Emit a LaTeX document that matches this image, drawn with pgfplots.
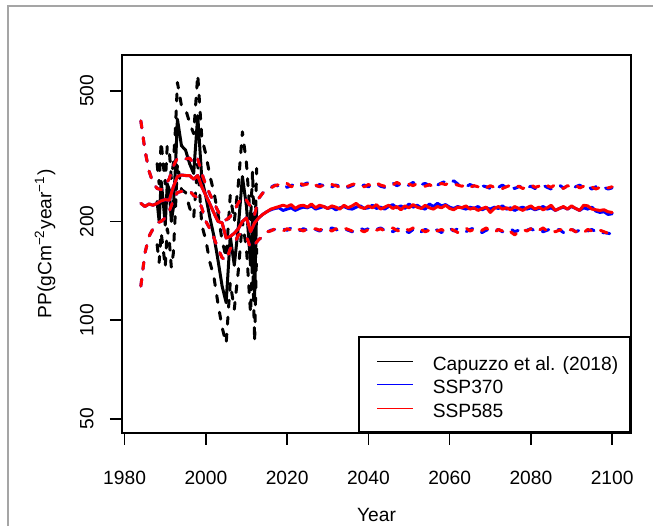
\documentclass[border=0pt]{standalone}
\usepackage{fontspec}
\setmainfont{Liberation Sans}
\usepackage{pgfplots}
\usepackage{pgfplotstable}
\pgfplotsset{compat=1.18}

% model runs (mean, upper, lower) for SSP370 (b*) and SSP585 (r*)
\pgfplotstableread{
year bm bu bl rm ru rl
1984 227 405 127 227 405 127
1985 222 330 160 222 330 160
1986 226 285 180 226 285 180
1987 224 262 190 224 262 190
1988 227 252 198 227 252 198
1989 231 250 200 231 250 200
1990 233 258 205 233 258 205
1991 232 270 215 232 270 215
1992 255 295 232 255 295 232
1993 274 312 245 274 312 245
1994 277 312 247 277 312 247
1995 276 310 246 276 310 246
1996 276 312 248 276 312 248
1997 269 300 240 269 300 240
1998 276 310 236 276 310 236
1999 255 280 220 255 280 220
2000 240 258 200 240 258 200
2001 226 242 190 226 242 190
2002 212 228 178 212 228 178
2003 200 215 165 200 215 165
2004 198 205 155 198 205 155
2005 178 202 152 178 202 152
2006 180 207 165 180 207 165
2007 184 215 170 184 215 170
2008 190 228 182 190 228 182
2009 200 238 184 200 238 184
2010 205 232 180 205 232 180
2011 186 222 166 186 222 166
2012 198 210 170 198 210 170
2013 205 235 176 205 235 176
2014 210 244 180 210 244 180
2015 214 248 185 214 250 186
2016 217 254 188 218 253 187
2017 219 258 189 220 257 190
2018 220 256 188 222 259 189
2019 216 260 190 224 256 187
2020 218 254 188 222 261 190
2021 220 257 191 225 255 188
2022 216 261 189 219 259 191
2023 219 256 187 223 263 189
2024 221 259 190 224 258 187
2025 220 262 188 221 260 190
2026 223 257 191 226 264 188
2027 218 255 189 220 258 190
2028 220 259 187 224 255 188
2029 222 257 190 222 258 191
2030 219 260 188 219 256 189
2031 221 255 191 223 259 187
2032 217 258 189 221 257 190
2033 220 256 187 218 254 188
2034 222 259 190 224 258 191
2035 219 254 188 220 256 189
2036 218 257 186 223 259 187
2037 221 260 189 227 261 190
2038 223 256 191 221 257 188
2039 219 258 188 219 255 186
2040 220 255 190 223 259 189
2041 224 257 187 220 256 191
2042 219 261 189 225 262 188
2043 221 256 191 218 258 190
2044 218 254 188 221 256 187
2045 222 259 190 224 260 189
2046 225 262 186 219 258 191
2047 220 257 189 222 263 188
2048 223 260 191 217 259 186
2049 219 255 187 223 257 190
2050 226 258 185 220 260 188
2051 221 263 189 225 257 191
2052 224 256 191 221 261 187
2053 220 259 186 219 258 189
2054 218 261 189 224 256 186
2055 226 257 187 220 259 188
2056 222 254 190 218 255 191
2057 227 258 188 222 258 187
2058 223 262 185 220 261 189
2059 225 265 189 224 259 186
2060 221 261 191 219 263 190
2061 219 266 187 217 260 188
2062 222 260 190 221 258 185
2063 220 257 188 220 256 189
2064 218 255 186 223 259 191
2065 221 259 189 218 254 187
2066 219 256 191 220 257 189
2067 222 253 187 216 255 186
2068 217 257 185 219 258 188
2069 220 255 188 221 253 191
2070 218 252 190 213 257 187
2071 221 256 187 219 254 185
2072 219 254 189 222 256 189
2073 223 258 186 218 252 187
2074 218 253 188 220 255 190
2075 220 256 190 217 258 186
2076 216 252 186 222 253 182
2077 219 255 188 219 256 186
2078 221 257 185 216 252 189
2079 218 253 188 220 255 187
2080 220 256 190 223 259 190
2081 217 252 187 218 254 186
2082 219 255 189 221 256 188
2083 222 258 186 217 252 191
2084 218 254 188 220 257 187
2085 220 251 190 224 254 189
2086 216 255 187 216 259 186
2087 219 258 189 219 255 188
2088 221 253 185 222 252 190
2089 218 256 188 218 257 187
2090 222 252 190 223 254 189
2091 219 255 186 219 258 186
2092 216 258 188 216 253 188
2093 220 253 185 224 256 185
2094 218 256 187 223 252 189
2095 221 251 189 218 255 187
2096 215 255 186 217 251 185
2097 213 252 183 216 254 188
2098 214 254 185 217 250 186
2099 210 251 184 214 253 184
2100 211 253 183 213 255 186
}\ssptab

% Capuzzo et al. (2018): mean, upper, lower
\pgfplotstableread{
year m u l
1988.0 230 300 170
1988.5 200 260 150
1989.0 265 350 185
1989.5 230 300 165
1990.0 195 260 145
1990.5 260 340 190
1991.0 250 330 175
1991.5 200 270 145
1992.0 220 300 160
1992.5 290 380 215
1993.0 410 530 300
1994.0 340 450 250
1995.0 330 440 245
1996.0 300 400 220
1997.0 280 370 205
1998.0 420 560 300
1999.0 270 360 195
2000.0 238 320 175
2001.0 205 275 150
2002.0 180 245 135
2003.0 152 210 112
2004.0 127 175 95
2005.0 113 155 85
2006.0 180 240 130
2007.0 147 200 108
2008.0 193 260 142
2009.0 274 375 200
2010.0 222 300 165
2011.0 147 200 105
2011.5 210 285 155
2012.0 118 160 86
2012.5 220 290 165
}\captab

\tikzset{
  mean/.style={line width=1.5pt, line join=round, line cap=round},
  band/.style={line width=1.5pt, line join=round, line cap=round, dash pattern=on 3.5pt off 5pt},
}

\begin{document}
\fontsize{9.6}{11.5}\selectfont
\begin{tikzpicture}
\useasboundingbox (-61pt,-46.5pt) rectangle (265.5pt,216.5pt);
\draw[color={rgb,255:red,165;green,165;blue,165}, line width=0.6pt]
  (-57pt,-46.5pt) -- (-57pt,213.5pt) -- (265.5pt,213.5pt);
\begin{axis}[
    at={(0,0)}, anchor=south west,
    scale only axis, width=254.5pt, height=189pt,
    xmin=1979.36, xmax=2104.64,
    ymode=log, ymin=45.3, ymax=643,
    xtick={1980,2000,...,2100},
    ytick={50,100,200,500}, yticklabels={50,100,200,500},
    minor tick num=0,
    tick pos=left, tick align=outside, major tick length=6pt,
    axis line style={line width=0.8pt},
    every tick/.style={black, line width=0.8pt},
    /pgf/number format/1000 sep={},
    /pgf/number format/assume math mode=true,
    xticklabel style={anchor=north, inner sep=0pt},
    xticklabel shift=13pt,
    yticklabel style={rotate=90, anchor=south, inner sep=0pt},
    yticklabel shift=8pt,
    xlabel={Year},
    ylabel={PP(gCm\textsuperscript{−2}year\textsuperscript{−1})},
    every axis x label/.style={at={(axis description cs:0.5,-0.2169)}, anchor=center},
    every axis y label/.style={at={(axis description cs:-0.1513,0.5)}, rotate=90, anchor=center},
    legend style={at={(1,0)}, anchor=south east, draw=black, line width=0.8pt,
      inner xsep=6pt, inner ysep=7.5pt, row sep=2.75pt,
      nodes={inner sep=0pt, text height=9pt, text depth=0pt}},
    legend cell align=left,
    legend image code/.code={
      \path (0pt,0pt);
      \draw[#1, line width=0.6pt, solid] (2.5pt,0pt) -- (20.5pt,0pt);
      \path (30pt,0pt);
    },
]
\addplot[black, mean, forget plot] table[x=year, y=m] {\captab};
\addplot[black, band, forget plot] table[x=year, y=u] {\captab};
\addplot[black, band, forget plot] table[x=year, y=l] {\captab};

\addplot[blue, mean, forget plot] table[x=year, y=bm] {\ssptab};
\addplot[blue, band, forget plot] table[x=year, y=bu] {\ssptab};
\addplot[blue, band, forget plot] table[x=year, y=bl] {\ssptab};

\addplot[red, mean, forget plot] table[x=year, y=rm] {\ssptab};
\addplot[red, band, forget plot] table[x=year, y=ru] {\ssptab};
\addplot[red, band, forget plot] table[x=year, y=rl] {\ssptab};

\addlegendimage{black}
\addlegendentry{Capuzzo et al. (2018)}
\addlegendimage{blue}
\addlegendentry{SSP370}
\addlegendimage{red}
\addlegendentry{SSP585}
\end{axis}
\end{tikzpicture}
\end{document}
